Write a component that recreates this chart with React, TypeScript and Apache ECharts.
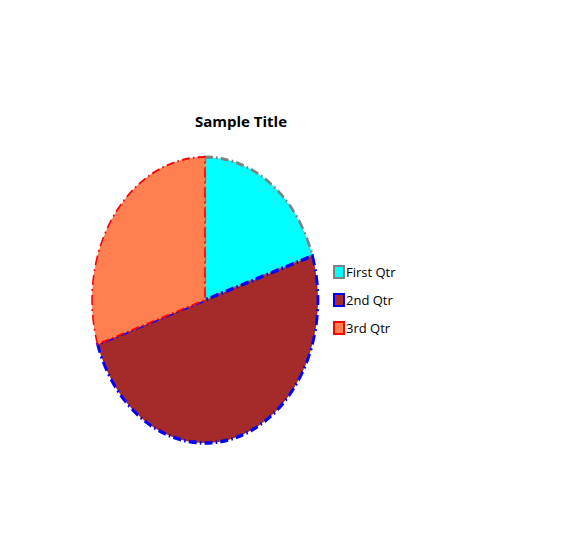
import React, { useEffect, useRef } from "react";
import * as echarts from "echarts";

const categories = ["First Qtr", "2nd Qtr", "3rd Qtr"];
const values = [20, 50, 30];
const fillColors = ["#00FFFF", "#A52A2A", "#FF7F50"];
const borderColors = ["#808080", "#0000FF", "#FF0000"];
const borderWidths = [3, 3.5, 2];

export default function App() {
  const ref = useRef<HTMLDivElement>(null);
  useEffect(() => {
    const chart = echarts.init(ref.current!, null, { renderer: "svg" });
    const total = values.reduce((a, b) => a + b, 0);
    const cx = 205, cy = 300, rx = 113, ry = 143;
    const dash = [10, 4, 2, 4];
    chart.setOption({
      animation: false,
      backgroundColor: "#ffffff",
      title: {
        text: "Sample Title",
        left: 236,
        textAlign: "center",
        top: 108,
        textStyle: { fontFamily: "Open Sans", fontWeight: "bold", fontSize: 15, color: "#000" },
      },
      legend: {
        orient: "vertical",
        left: 333,
        top: 265,
        padding: 0,
        itemWidth: 10,
        itemHeight: 12,
        itemGap: 14,
        icon: "rect",
        textStyle: { fontFamily: "Open Sans", fontSize: 13, color: "#000", padding: [0, 0, 0, -3] },
        data: categories.map((name, i) => ({
          name,
          itemStyle: {
            color: fillColors[i],
            borderColor: borderColors[i],
            borderWidth: 2,
          },
        })),
      },
      series: categories.map((name, i) => ({
        type: "custom",
        name,
        coordinateSystem: "none",
        itemStyle: { color: fillColors[i], borderColor: borderColors[i] },
        data: [values[i]],
        renderItem: (params: any, api: any) => {
          const before = values.slice(0, i).reduce((a, b) => a + b, 0);
          const start = -Math.PI / 2 + (2 * Math.PI * before) / total;
          const end = start + (2 * Math.PI * api.value(0)) / total;
          return {
            type: "sector",
            x: cx,
            y: cy,
            scaleX: rx / ry,
            shape: { cx: 0, cy: 0, r: ry, r0: 0, startAngle: start, endAngle: end, clockwise: true },
            style: {
              fill: fillColors[i],
              stroke: borderColors[i],
              lineWidth: borderWidths[i],
              lineDash: dash,
              strokeNoScale: true,
            },
          };
        },
      })),
    });
    return () => chart.dispose();
  }, []);
  return (
    <div
      ref={ref}
      style={{ width: 576, height: 540, position: "absolute", left: 0, top: 0 }}
    />
  );
}
